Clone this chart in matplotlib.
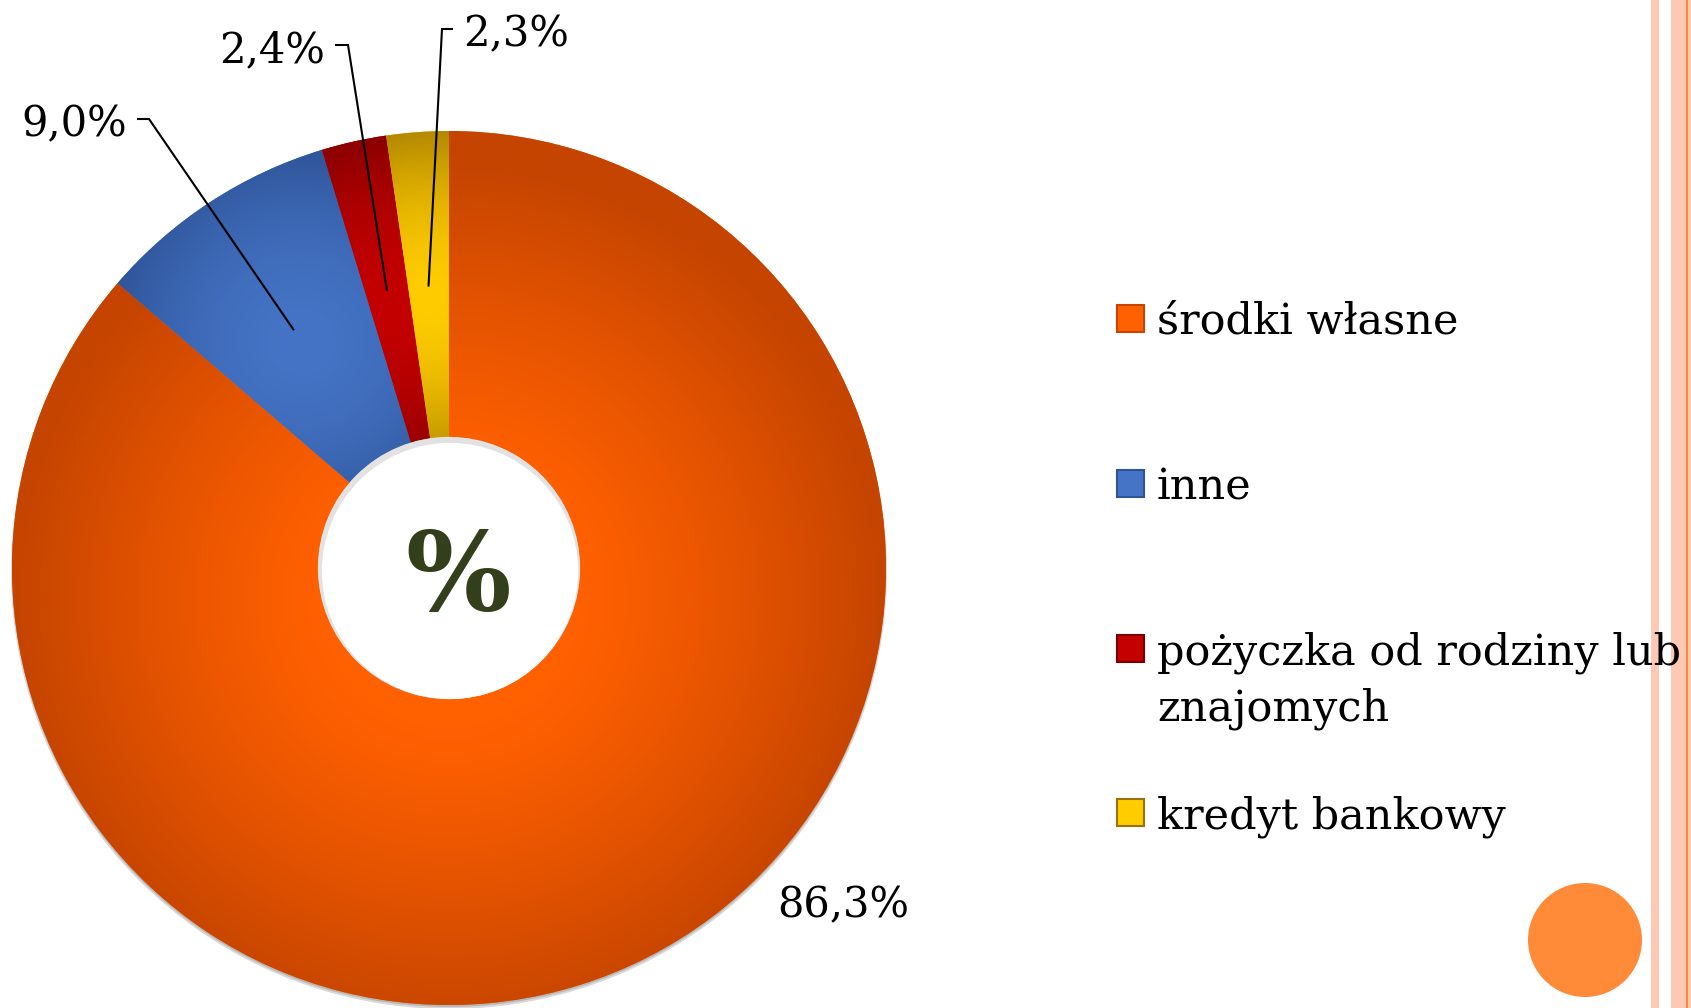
import numpy as np
import matplotlib
matplotlib.use('Agg')
import matplotlib.pyplot as plt
from matplotlib.patches import Rectangle, Circle
from matplotlib.colors import to_rgb

# data
categories = ['środki własne', 'inne', 'pożyczka od rodziny lub\nznajomych', 'kredyt bankowy']
values = [86.3, 9.0, 2.4, 2.3]
value_labels = ['86,3%', '9,0%', '2,4%', '2,3%']
light_colors = ['#FF6000', '#4574C6', '#C40000', '#FFCC00']
dark_colors = ['#C44400', '#2E5498', '#780000', '#9A7200']

W, H = 1691, 1008
fig = plt.figure(figsize=(W / 100, H / 100), dpi=100)
ax = fig.add_axes([0, 0, 1, 1])

serif = 'DejaVu Serif'
cx, cy, R = 449, H - 568, 437
hole = 0.30

# soft shadow under the ring
ax.add_patch(Circle((cx, cy - 3), R + 1, color='#d8d8d8', lw=0, zorder=1))
ax.add_patch(Circle((cx, cy - 2), R, color='#b8b8b8', lw=0, zorder=1))

wedges, _ = ax.pie(values, center=(cx, cy), radius=R, startangle=90, counterclock=False,
                   colors=light_colors, wedgeprops=dict(width=R * (1 - hole), linewidth=0))
for w in wedges:
    w.set_zorder(2)

# gradient fill clipped to each wedge
n = 700
xs = np.linspace(cx - R, cx + R, n)
ys = np.linspace(cy - R, cy + R, n)
X, Y = np.meshgrid(xs, ys)
for i, w in enumerate(wedges):
    mid = np.deg2rad((w.theta1 + w.theta2) / 2)
    if i == 0:
        d = np.hypot(X - cx, Y - (cy - 30)) / R
        t = np.clip((d - 0.3) / 0.7, 0, 1) ** 1.2
    else:
        fx = cx + 0.62 * R * np.cos(mid)
        fy = cy + 0.62 * R * np.sin(mid)
        t = np.clip(np.hypot(X - fx, Y - fy) / (0.45 * R), 0, 1) ** 1.8
    lo = np.array(to_rgb(light_colors[i]))
    hi = np.array(to_rgb(dark_colors[i]))
    img = lo + (hi - lo) * t[..., None]
    im = ax.imshow(img, extent=(cx - R, cx + R, cy - R, cy + R), origin='lower',
                   interpolation='bilinear', zorder=3)
    im.set_clip_path(w)

# faint shadow inside the hole
ax.add_patch(Circle((cx, cy), R * hole, color='#e2e2e2', lw=0, zorder=4))
ax.add_patch(Circle((cx + 1, cy - 3), R * hole - 3, color='white', lw=0, zorder=5))

ax.text(cx + 9, cy - 11, '%', fontsize=80, fontweight='bold', family=serif,
        color='#333F1A', ha='center', va='center', zorder=6)

# data labels with leader lines
label_fs = 30
r_frac = [None, 0.652, 0.652, 0.648]
elbows = [None, (149, 119), (348, 45), (442, 29)]
tick_ends = [None, (138, 119), (336, 45), (452, 29)]
for i, w in enumerate(wedges):
    if i == 0:
        ax.text(843, H - 905, value_labels[i], fontsize=label_fs, family=serif,
                ha='center', va='center', zorder=7)
        continue
    mid = np.deg2rad((w.theta1 + w.theta2) / 2)
    ax_x = cx + r_frac[i] * R * np.cos(mid)
    ax_y = cy + r_frac[i] * R * np.sin(mid)
    ex, ey = elbows[i]
    tx, ty = tick_ends[i]
    ax.plot([ax_x, ex, tx], [ax_y, H - ey, H - ty], color='black', lw=1.5, zorder=7,
            solid_joinstyle='miter')
    if tx > ex:
        ax.text(tx + 11, H - ty - 5, value_labels[i], fontsize=label_fs, family=serif,
                ha='left', va='center', zorder=7)
    else:
        ax.text(tx - 11, H - ty - 5, value_labels[i], fontsize=label_fs, family=serif,
                ha='right', va='center', zorder=7)

# legend
leg_y = [319, 484, 649, 813]
line_gap = 57
for i, lab in enumerate(categories):
    ax.add_patch(Rectangle((1117, H - leg_y[i] - 13), 27, 27, facecolor=light_colors[i],
                           edgecolor=dark_colors[i], lw=1.5, zorder=5))
    for k, line in enumerate(lab.split('\n')):
        ax.text(1157, H - leg_y[i] - 15 - k * line_gap, line, fontsize=31, family=serif,
                ha='left', va='baseline', zorder=5)

# slide decoration on the right
ax.add_patch(Rectangle((1651, 0), 8, H, color='#FDC9B5', lw=0, zorder=0))
ax.add_patch(Rectangle((1671, 0), 15, H, color='#FDC9B5', lw=0, zorder=0))
ax.add_patch(Rectangle((1686, 0), 2, H, color='#F98A40', lw=0, zorder=0))
ax.add_patch(Rectangle((1688, 0), 3, H, color='#FDC9B5', lw=0, zorder=0))
ax.add_patch(Circle((1585, H - 940), 57, color='#FF8A38', lw=0, zorder=0))

ax.set_xlim(0, W)
ax.set_ylim(0, H)
ax.set_aspect('equal')
ax.axis('off')

fig.savefig('out.png', dpi=100, facecolor='white')
